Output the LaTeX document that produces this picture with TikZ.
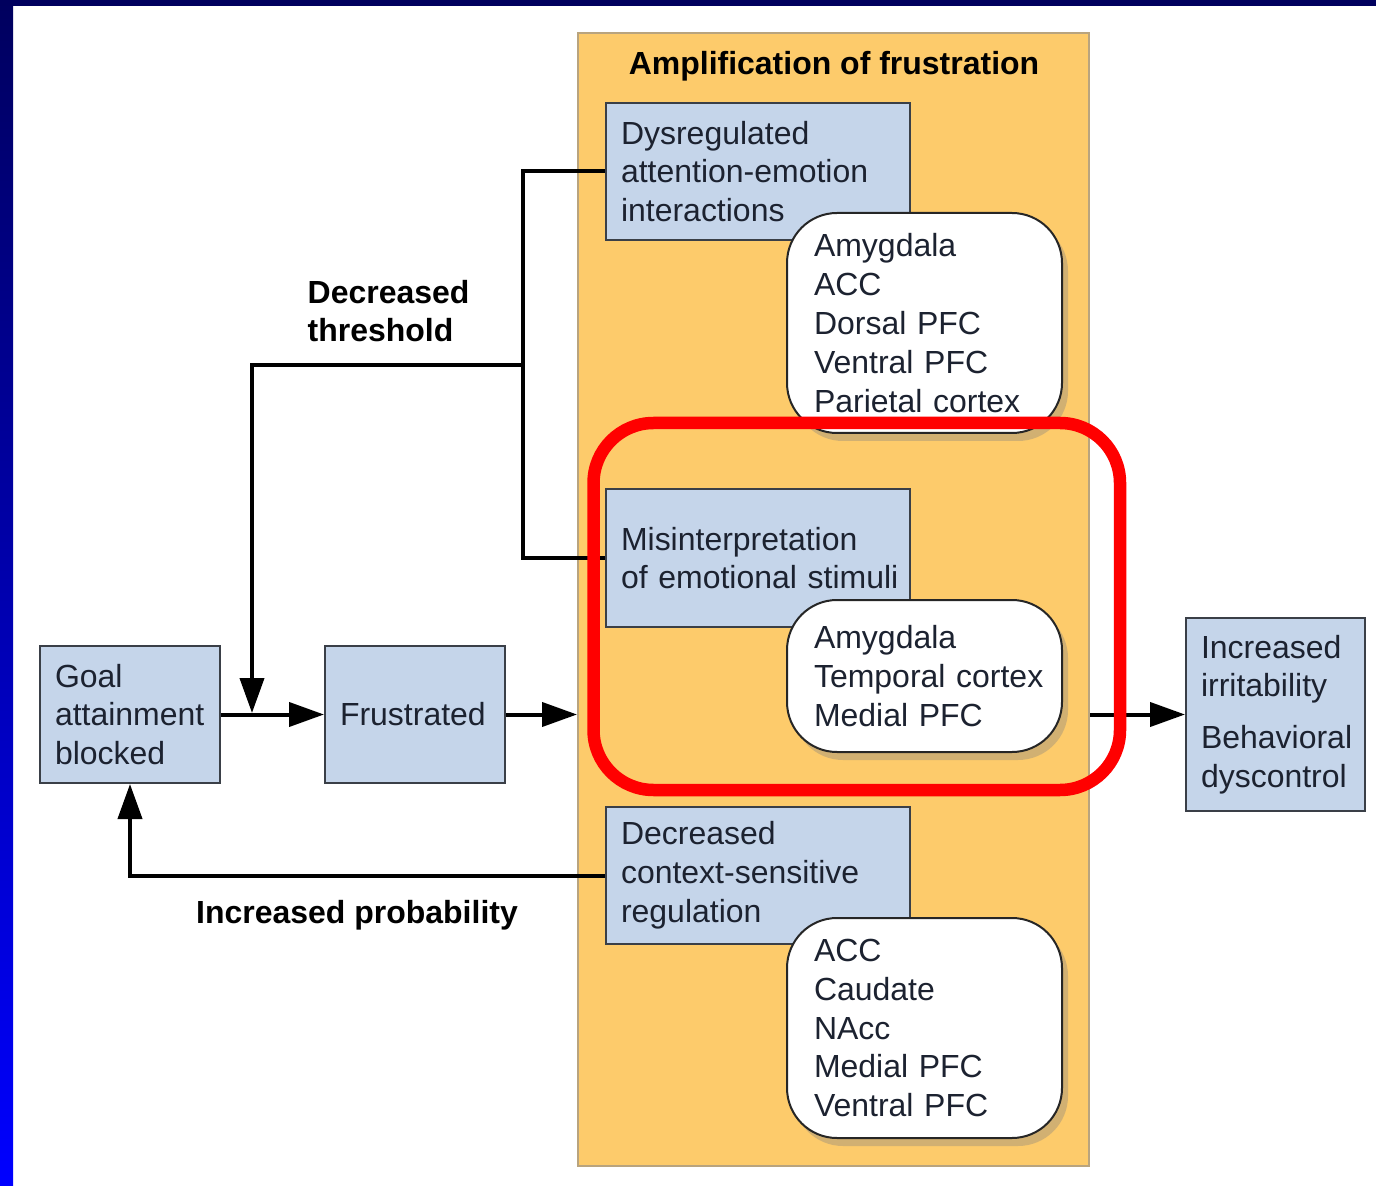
\documentclass[tikz,border=0pt]{standalone}
\usepackage{fontspec}
\setmainfont{Liberation Sans}
\usetikzlibrary{arrows.meta, positioning, shadows}
\definecolor{navytop}{HTML}{00005E}
\definecolor{barblue}{HTML}{0000FF}
\definecolor{ampfill}{HTML}{FDCB6B}
\definecolor{ampline}{HTML}{B9A47E}
\definecolor{boxfill}{HTML}{C5D5EA}
\definecolor{boxline}{HTML}{3A3F47}
\definecolor{inktext}{HTML}{1C2230}

\begin{document}
\begin{tikzpicture}[x=0.1mm, y=-0.1mm, font=\fontsize{9.1}{11.05}\selectfont, text=inktext,
    bluebox/.style={draw=boxline, line width=0.2mm, fill=boxfill, inner xsep=1mm, align=left,
      minimum width=#1, text width=#1-2mm, execute at begin node={\leftskip=0.5mm}},
    areabox/.style={draw=black!85, line width=0.2mm, fill=white, rounded corners=5mm, inner xsep=1mm,
      align=left, text width=25.5mm, minimum width=27.5mm, execute at begin node={\leftskip=1.7mm},
      drop shadow={opacity=0.35, shadow xshift=0.6mm, shadow yshift=-0.8mm}},
    arr/.style={line width=0.4mm, -{Triangle[length=3.5mm, width=2.4mm]}},
    link/.style={line width=0.4mm},
    tag/.style={font=\fontsize{9.1}{11.05}\selectfont\bfseries, text=black, inner sep=0, align=left}]
	\useasboundingbox (0,0) rectangle (1376,1186);
	\fill[white] (0,0) rectangle (1376,1186);
	\shade[top color=navytop, bottom color=barblue] (0,0) rectangle (13,1186);
	\fill[navytop] (0,0) rectangle (1376,6);

	% amplification column
	\node[draw=ampline, line width=0.2mm, fill=ampfill, minimum width=51.1mm, minimum height=113.3mm] (amp) at (833.5,599.5) {};
	\node[tag] (title) at (834,66) {Amplification of frustration};

	\node[bluebox=30.4mm, minimum height=13.7mm] (attn) at (758,171.5) {Dysregulated\\attention-emotion\\interactions};
	\node[bluebox=30.4mm, minimum height=13.8mm] (misint) at (758,558) {Misinterpretation\\of emotional stimuli};
	\node[bluebox=30.4mm, minimum height=13.7mm] (ctxreg) at (758,875.5) {Decreased\\context-sensitive\\regulation};

	\node[areabox, minimum height=22mm] (attnarea) at (924.5,323) {Amygdala\\ACC\\Dorsal PFC\\Ventral PFC\\Parietal cortex};
	\node[areabox, minimum height=15.2mm] (misarea) at (924.5,676) {Amygdala\\Temporal cortex\\Medial PFC};
	\node[areabox, minimum height=22mm] (ctxarea) at (924.5,1028) {ACC\\Caudate\\NAcc\\Medial PFC\\Ventral PFC};

	% outside boxes
	\node[bluebox=18mm, minimum height=13.7mm] (goal) at (130,714.5) {Goal\\attainment\\blocked};
	\node[bluebox=18mm, minimum height=13.7mm, align=center] (frust) at (415,714.5) {Frustrated};
	\node[bluebox=17.9mm, minimum height=19.3mm] (out) at (1275.5,714.5) {Increased\\irritability\\[1.3mm]Behavioral\\dyscontrol};

	% connectors
	\coordinate (spine) at (523,365);
	\coordinate (meet) at (252,713);
	\draw[link] (attn.west) -- (attn.west -| spine) |- (misint.west);
	\draw[arr] (spine) -| (meet);
	\draw[arr] (goal) -- (frust);
	\draw[arr] (frust.east) -- (frust.east -| amp.west);
	\draw[arr] (amp.east |- out) -- (out.west);
	\draw[arr] (ctxreg.west) -| (goal.south);

	\node[tag, anchor=west] (thresh) at (307,311) {Decreased\\threshold};
	\node[tag] (prob) at (357,915) {Increased probability};

	% highlight
	\draw[red, line width=1.25mm, rounded corners=6mm] (593.5,423) rectangle (1120,790);
\end{tikzpicture}
\end{document}
